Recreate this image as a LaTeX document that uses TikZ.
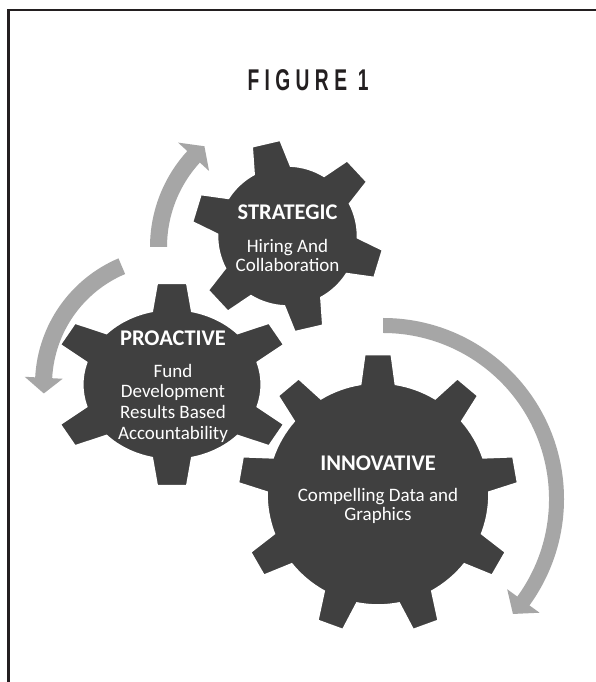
\documentclass[tikz,border=0pt]{standalone}
\usepackage{fontspec}
\setmainfont{Carlito}
\newfontfamily\figfont[FakeStretch=0.64,LetterSpace=18]{Liberation Sans}

\definecolor{geardark}{HTML}{404040}
\definecolor{arrowgray}{HTML}{A6A6A6}
\definecolor{framedark}{HTML}{231F20}

% Cog outline centred on the origin of the current scope.
% #1 teeth, #2 angle of first tooth, #3 body radius, #4 tip radius,
% #5 half angle of a tooth tip, #6 half angle of a tooth base
\newcommand{\cogpath}[6]{%
  \pgfmathsetmacro{\cogstep}{360/#1}
  \path[gear] ({#2-#6}:#3)
    \foreach \k in {1,...,#1} {
      -- ({#2+(\k-1)*\cogstep-#5}:#4) -- ({#2+(\k-1)*\cogstep+#5}:#4)
      -- ({#2+(\k-1)*\cogstep+#6}:#3)
      arc[start angle={#2+(\k-1)*\cogstep+#6}, end angle={#2+\k*\cogstep-#6}, radius=#3]
    } -- cycle;
}

% Curved block arrow around the origin of the current scope.
% #1 inner radius, #2 outer radius, #3 tail angle, #4 head base angle,
% #5 tip angle, #6 half width of the head
\newcommand{\bentarrow}[6]{%
  \pgfmathsetmacro{\armid}{(#1+#2)/2}
  \fill[ringarrow] (#3:#1) -- (#3:#2) arc[start angle=#3, end angle=#4, radius=#2]
    -- (#4:{\armid+#6}) -- (#5:\armid) -- (#4:{\armid-#6}) -- (#4:#1)
    arc[start angle=#4, end angle=#3, radius=#1] -- cycle;
}

\begin{document}
\begin{tikzpicture}[x=1pt,y=1pt,
  gear/.style={fill=geardark, draw=white, line width=1.6pt, line join=miter},
  ringarrow/.style={fill=arrowgray},
  headline/.style={text=white, font=\fontsize{22.4}{25}\selectfont\bfseries, inner sep=0pt, anchor=base},
  bodyline/.style={text=white, font=\fontsize{19}{21}\selectfont, inner sep=0pt, anchor=base},
  titletext/.style={text=framedark, font=\figfont\bfseries\fontsize{30}{34}\selectfont, inner sep=0pt, anchor=base},
]
\useasboundingbox (0,0) rectangle (596,682);
\fill[white] (0,0) rectangle (596,682);

% frame, open to the right and below
\draw[framedark, line width=2.6pt] (600,672) -- (8.3,672) -- (8.3,-5);

\node[titletext] (fig-title) at (308,591) {FIGURE 1};

% circular arrows
\begin{scope}[shift={(292,435)}]
  \bentarrow{125}{142}{180}{137.5}{131}{21}
\end{scope}
\begin{scope}[shift={(172,297.5)}]
  \bentarrow{120}{137}{113}{177}{184}{19}
\end{scope}
\begin{scope}[shift={(383,183)}]
  \bentarrow{166}{181}{90}{-36}{-41.5}{20}
\end{scope}

% cogs
\begin{scope}[shift={(287.5,446)}]
  \cogpath{6}{103}{70}{96}{8.6}{15.5}
\end{scope}
\begin{scope}[shift={(172,297.5)}, xscale=1.19]
  \cogpath{6}{90}{75}{102}{7}{12.8}
\end{scope}
\begin{scope}[shift={(378,188)}]
  \cogpath{9}{90}{111}{140}{5.45}{9}
\end{scope}

% labels
\node[headline] (strat-head) at (287.5,462) {STRATEGIC};
\node[bodyline] (strat-l1) at (287.5,429.3) {Hiring And};
\node[bodyline] (strat-l2) at (287.5,410.3) {Collaboration};

\node[headline] (proa-head) at (173,336) {PROACTIVE};
\node[bodyline] (proa-l1) at (173,304.7) {Fund};
\node[bodyline] (proa-l2) at (173,284.2) {Development};
\node[bodyline] (proa-l3) at (173,263.7) {Results Based};
\node[bodyline] (proa-l4) at (173,242.5) {Accountability};

\node[headline] (inno-head) at (378,211) {INNOVATIVE};
\node[bodyline] (inno-l1) at (378,180) {Compelling Data and};
\node[bodyline] (inno-l2) at (378,161.5) {Graphics};
\end{tikzpicture}
\end{document}
